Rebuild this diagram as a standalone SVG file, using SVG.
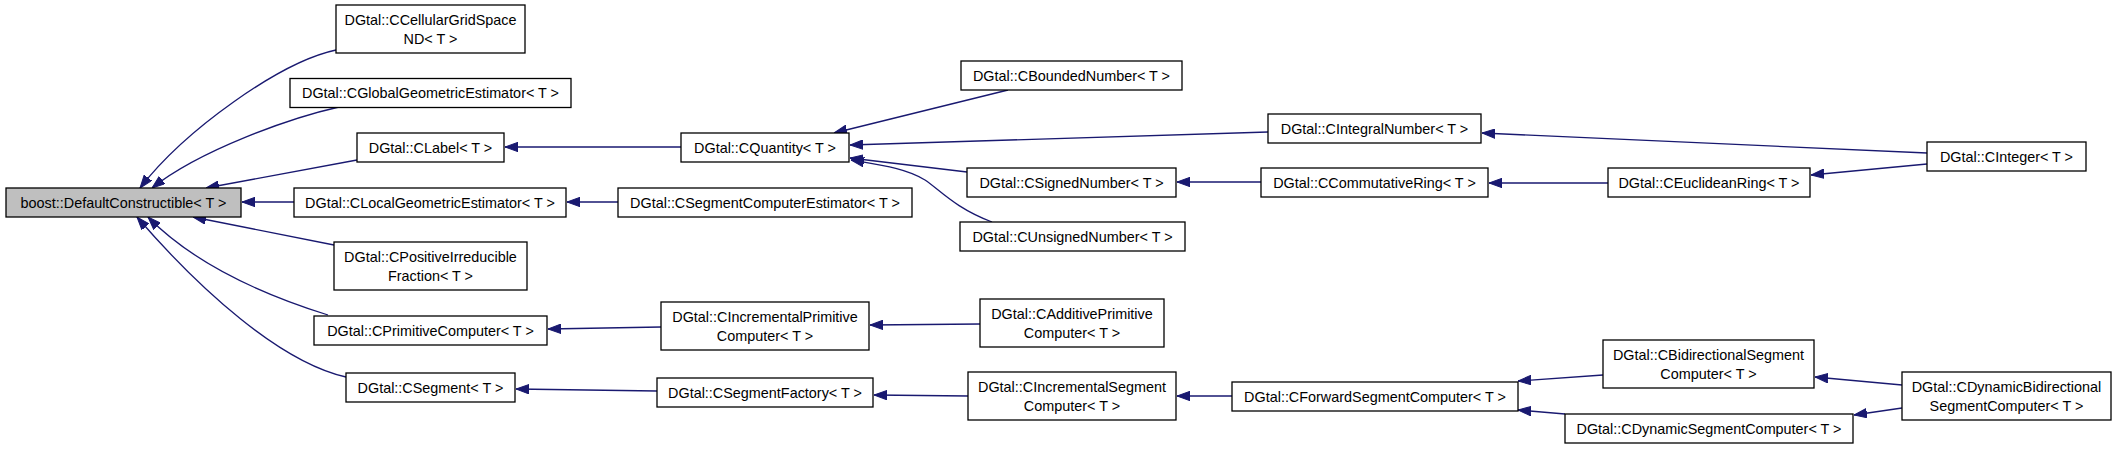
<svg xmlns="http://www.w3.org/2000/svg" width="2117" height="449" viewBox="0 0 2117 449">
<style>
.n rect{fill:#fff;stroke:#000;stroke-width:1.3}
.n.root rect{fill:#bfbfbf}
.n text{font-family:"Liberation Sans",Arial,sans-serif;font-size:14.4px;fill:#000;text-anchor:middle}
.e path{fill:none;stroke:#191970;stroke-width:1.3;marker-end:url(#arr)}
</style>
<defs>
<marker id="arr" markerWidth="13" markerHeight="10" refX="13" refY="5" orient="auto" markerUnits="userSpaceOnUse">
<path d="M0,0.3 L13,5 L0,9.7 z" fill="#191970" stroke="#191970" stroke-width="1"/>
</marker>
</defs>
<rect width="2117" height="449" fill="#fff"/>
<g id="edges" class="e">
<path d="M336,50 C280,62 185,130 140,188"/>
<path d="M339,107 C290,118 200,150 152,188"/>
<path d="M357,160 L206,188"/>
<path d="M294,202 L242,202"/>
<path d="M334,245 L193,217"/>
<path d="M328,315 C280,300 200,270 148,217"/>
<path d="M346,377 C280,362 200,290 137,217"/>
<path d="M681,147 L505,147"/>
<path d="M618,202 L567,202"/>
<path d="M1008,90 L834,133"/>
<path d="M1268,132 L850,145"/>
<path d="M967,172 L850,158"/>
<path d="M992,222 C955,208 940,190 925,180 C905,168 880,165 851,160"/>
<path d="M1927,153 L1482,133"/>
<path d="M1261,182 L1177,182"/>
<path d="M1608,183 L1489,183"/>
<path d="M1927,164 L1811,175"/>
<path d="M661,327 L548,329"/>
<path d="M980,324 L870,325"/>
<path d="M657,391 L516,389"/>
<path d="M968,396 L874,395"/>
<path d="M1232,396 L1177,396"/>
<path d="M1603,375 L1518,381"/>
<path d="M1565,414 L1518,410"/>
<path d="M1902,385 L1815,377"/>
<path d="M1902,408 L1854,415"/>
</g>
<g id="n_dc" class="n root"><rect x="6" y="188" width="235" height="29"/><text x="123.5" y="207.5">boost::DefaultConstructible&lt; T &gt;</text></g>
<g id="n_cell" class="n"><rect x="336" y="5" width="189" height="48"/><text x="430.5" y="25">DGtal::CCellularGridSpace</text><text x="430.5" y="44">ND&lt; T &gt;</text></g>
<g id="n_glob" class="n"><rect x="290" y="78.5" width="281" height="29"/><text x="430.5" y="98">DGtal::CGlobalGeometricEstimator&lt; T &gt;</text></g>
<g id="n_label" class="n"><rect x="357" y="133" width="147" height="29"/><text x="430.5" y="152.5">DGtal::CLabel&lt; T &gt;</text></g>
<g id="n_local" class="n"><rect x="294" y="188" width="272" height="29"/><text x="430" y="207.5">DGtal::CLocalGeometricEstimator&lt; T &gt;</text></g>
<g id="n_posfrac" class="n"><rect x="334" y="242" width="193" height="48"/><text x="430.5" y="262">DGtal::CPositiveIrreducible</text><text x="430.5" y="281">Fraction&lt; T &gt;</text></g>
<g id="n_primcomp" class="n"><rect x="314" y="316" width="233" height="29"/><text x="430.5" y="335.5">DGtal::CPrimitiveComputer&lt; T &gt;</text></g>
<g id="n_seg" class="n"><rect x="346" y="373" width="169" height="29"/><text x="430.5" y="392.5">DGtal::CSegment&lt; T &gt;</text></g>
<g id="n_quant" class="n"><rect x="681" y="133" width="168" height="29"/><text x="765" y="152.5">DGtal::CQuantity&lt; T &gt;</text></g>
<g id="n_segest" class="n"><rect x="618" y="188" width="294" height="29"/><text x="765" y="207.5">DGtal::CSegmentComputerEstimator&lt; T &gt;</text></g>
<g id="n_incprim" class="n"><rect x="661" y="302" width="208" height="48"/><text x="765" y="322">DGtal::CIncrementalPrimitive</text><text x="765" y="341">Computer&lt; T &gt;</text></g>
<g id="n_segfact" class="n"><rect x="657" y="378" width="216" height="29"/><text x="765" y="397.5">DGtal::CSegmentFactory&lt; T &gt;</text></g>
<g id="n_bounded" class="n"><rect x="961" y="61" width="221" height="29"/><text x="1071.5" y="80.5">DGtal::CBoundedNumber&lt; T &gt;</text></g>
<g id="n_signed" class="n"><rect x="967" y="168" width="209" height="29"/><text x="1071.5" y="187.5">DGtal::CSignedNumber&lt; T &gt;</text></g>
<g id="n_unsigned" class="n"><rect x="960" y="222" width="225" height="29"/><text x="1072.5" y="241.5">DGtal::CUnsignedNumber&lt; T &gt;</text></g>
<g id="n_addprim" class="n"><rect x="980" y="299" width="184" height="48"/><text x="1072" y="319">DGtal::CAdditivePrimitive</text><text x="1072" y="338">Computer&lt; T &gt;</text></g>
<g id="n_incseg" class="n"><rect x="968" y="372" width="208" height="48"/><text x="1072" y="392">DGtal::CIncrementalSegment</text><text x="1072" y="411">Computer&lt; T &gt;</text></g>
<g id="n_integral" class="n"><rect x="1268" y="114" width="213" height="29"/><text x="1374.5" y="133.5">DGtal::CIntegralNumber&lt; T &gt;</text></g>
<g id="n_commring" class="n"><rect x="1261" y="168" width="227" height="29"/><text x="1374.5" y="187.5">DGtal::CCommutativeRing&lt; T &gt;</text></g>
<g id="n_forward" class="n"><rect x="1232" y="382" width="286" height="29"/><text x="1375" y="401.5">DGtal::CForwardSegmentComputer&lt; T &gt;</text></g>
<g id="n_eucl" class="n"><rect x="1608" y="168" width="202" height="29"/><text x="1709" y="187.5">DGtal::CEuclideanRing&lt; T &gt;</text></g>
<g id="n_bidir" class="n"><rect x="1603" y="340" width="211" height="48"/><text x="1708.5" y="360">DGtal::CBidirectionalSegment</text><text x="1708.5" y="379">Computer&lt; T &gt;</text></g>
<g id="n_dynseg" class="n"><rect x="1565" y="414" width="288" height="29"/><text x="1709" y="433.5">DGtal::CDynamicSegmentComputer&lt; T &gt;</text></g>
<g id="n_integer" class="n"><rect x="1927" y="142" width="159" height="29"/><text x="2006.5" y="161.5">DGtal::CInteger&lt; T &gt;</text></g>
<g id="n_dynbidir" class="n"><rect x="1902" y="372" width="209" height="48"/><text x="2006.5" y="392">DGtal::CDynamicBidirectional</text><text x="2006.5" y="411">SegmentComputer&lt; T &gt;</text></g>
</svg>
